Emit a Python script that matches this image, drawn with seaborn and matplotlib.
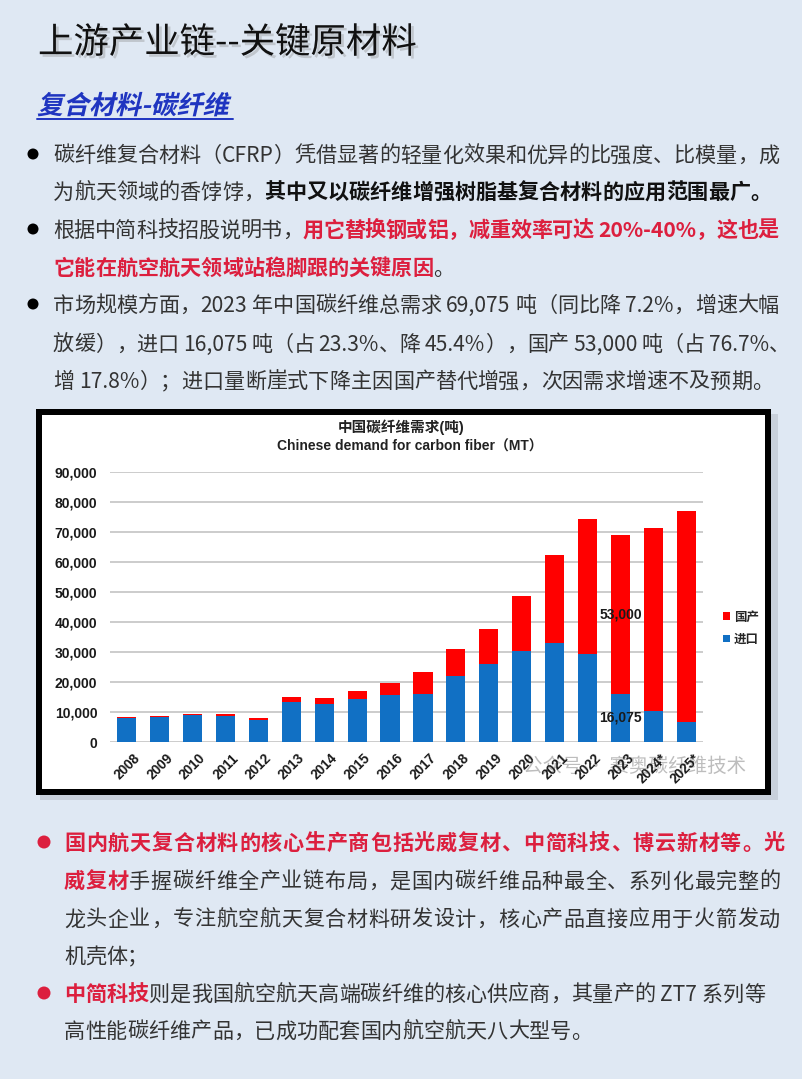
import matplotlib
matplotlib.use("Agg")
import matplotlib.pyplot as plt
import matplotlib.patheffects as pe
import pandas as pd
import seaborn as sns
from matplotlib.patches import Rectangle, Ellipse, PathPatch
from matplotlib.lines import Line2D
from matplotlib.textpath import TextPath
from matplotlib.font_manager import FontProperties
from matplotlib.transforms import Affine2D, ScaledTranslation

# 数据 (吨)
years = ["2008", "2009", "2010", "2011", "2012", "2013", "2014", "2015", "2016",
         "2017", "2018", "2019", "2020", "2021", "2022", "2023", "2024*", "2025*"]
imports = [7900, 8300, 9100, 8600, 7400, 13300, 12700, 14200, 15800,
           16000, 22000, 25900, 30300, 33100, 29400, 16075, 10400, 6700]
domestic = [600, 400, 300, 800, 600, 1800, 2100, 2800, 3800,
            7400, 9000, 11900, 18500, 29200, 44900, 53000, 60900, 70300]
y_ticks = [0, 10000, 20000, 30000, 40000, 50000, 60000, 70000, 80000, 90000]
callout_year = "2023"

W, H, DPI = 803, 1079, 100
BG = "#DFE8F3"
RED_BAR = "#FF0000"
BLUE_BAR = "#1170C4"
RED_TXT = "#DC1F3E"
TXT = "#333333"
BLK = "#111111"
CJK = ["Noto Sans CJK SC", "DejaVu Sans"]
CHART_FONT = ["Liberation Sans", "Noto Sans CJK SC", "DejaVu Sans"]

sns.set_theme(style="white")
plt.rcParams["font.family"] = CJK
plt.rcParams["axes.unicode_minus"] = False

fig = plt.figure(figsize=(W / DPI, H / DPI), dpi=DPI, facecolor=BG)
renderer = fig.canvas.get_renderer()


def fx(x):
    return x / W


def fy(y):
    return 1 - y / H


# ---------- chart box ----------
fig.add_artist(Rectangle((fx(40), fy(800)), 738 / W, 386 / H, transform=fig.transFigure,
                         facecolor="#A6AEB8", edgecolor="none", alpha=0.4, zorder=-3))
fig.add_artist(Rectangle((fx(39), fy(792)), 729 / W, 380 / H, transform=fig.transFigure,
                         facecolor="white", edgecolor="black", linewidth=6 * 72 / DPI, zorder=-2))

fig.text(fx(401), fy(427), "中国碳纤维需求(吨)", ha="center", va="center",
         fontsize=10.5, fontweight="bold", color="#222222", family=CHART_FONT)
fig.text(fx(410), fy(447), "Chinese demand for carbon fiber（MT）", ha="center", va="center",
         fontsize=10, fontweight="bold", color="#222222", family=CHART_FONT)
fig.text(fx(746), fy(766), "公众号 · 赛奥碳纤维技术", ha="right", va="center",
         fontsize=14, color="#BDBDBD", zorder=-1)

ax = fig.add_axes([fx(110), fy(742), 593 / W, 270 / H])
ax.patch.set_alpha(0)

df = pd.DataFrame({"year": years, "进口": imports, "国产": domestic})
df["total"] = df["进口"] + df["国产"]

sns.barplot(data=df, x="year", y="total", color=RED_BAR, saturation=1, width=0.58,
            linewidth=0, ax=ax, label="国产")
sns.barplot(data=df, x="year", y="进口", color=BLUE_BAR, saturation=1, width=0.58,
            linewidth=0, ax=ax, label="进口")

ax.set_xlim(-0.5, len(years) - 0.5)
ax.set_ylim(0, 90000)
ax.set_yticks(y_ticks)
ax.set_yticklabels([f"{v:,}" for v in y_ticks], fontsize=10, fontweight="bold",
                   family=CHART_FONT, color="#1A1A1A")
ax.set_xlabel("")
ax.set_ylabel("")
ax.yaxis.grid(True, color="#C8C8C8", linewidth=1.3)
ax.set_axisbelow(True)
sns.despine(ax=ax, left=True, bottom=True)
ax.tick_params(axis="y", length=0, pad=9)
ax.tick_params(axis="x", length=0, pad=3)
for lab in ax.get_xticklabels():
    lab.set_rotation(45)
    lab.set_ha("right")
    lab.set_va("center")
    lab.set_rotation_mode("anchor")
    lab.set_fontsize(9.8)
    lab.set_fontweight("bold")
    lab.set_family(CHART_FONT)
    lab.set_color("#1A1A1A")
    lab.set_transform(lab.get_transform() + ScaledTranslation(8 / 72, -7 / 72, fig.dpi_scale_trans))

# 2023 数值标注
row = df[df["year"] == callout_year].iloc[0]
xi = years.index(callout_year)
ax.text(xi, row["进口"] + row["国产"] / 2, f"{row['国产']:,}", ha="center", va="center",
        fontsize=10, fontweight="bold", family=CHART_FONT, color="#1A1A1A")
ax.text(xi, row["进口"] / 2, f"{row['进口']:,}", ha="center", va="center",
        fontsize=10, fontweight="bold", family=CHART_FONT, color="#1A1A1A")

handles, labels = ax.get_legend_handles_labels()
ax.legend(handles, labels, loc="center left", bbox_to_anchor=(fx(712), fy(628)),
          bbox_transform=fig.transFigure, frameon=False, handlelength=0.55, handleheight=0.55,
          handletextpad=0.3, labelspacing=0.75, prop={"family": CJK, "weight": "bold", "size": 9})

# ---------- page text ----------
title = fig.text(fx(38), fy(53), "上游产业链--关键原材料", ha="left", va="baseline",
                 fontsize=25.5, color=BLK)
title.set_path_effects([pe.withSimplePatchShadow(offset=(2, -2), shadow_rgbFace="#888888", alpha=0.35)])

BLUE_SUB = "#1F35C0"
sub_fp = FontProperties(family=CJK, weight="bold")
sub_path = TextPath((0, 0), "复合材料-碳纤维", size=26, prop=sub_fp)
fig.add_artist(PathPatch(sub_path, transform=Affine2D().skew_deg(13, 0).translate(37, H - 114),
                         facecolor=BLUE_SUB, edgecolor="none"))
fig.add_artist(Line2D([fx(37), fx(233)], [fy(118.5), fy(118.5)], transform=fig.transFigure,
                      color=BLUE_SUB, linewidth=1.4))

BODY = 15.2
_adv = {}


def advance(tk, weight):
    key = (tk, weight)
    if key not in _adv:
        a = fig.text(0, 0, "中" + tk + "中", fontsize=BODY, fontweight=weight)
        b = fig.text(0, 0, "中中", fontsize=BODY, fontweight=weight)
        _adv[key] = a.get_window_extent(renderer).width - b.get_window_extent(renderer).width
        a.remove()
        b.remove()
    return _adv[key]


def tokens(s):
    out, buf = [], ""
    for ch in s:
        if ch.isascii() and ch != " ":
            buf += ch
        else:
            if buf:
                out.append(buf)
                buf = ""
            out.append(ch)
    if buf:
        out.append(buf)
    return out


def body_line(y, segs, x0, x1=None):
    items = []
    for s, color, weight in segs:
        for tk in tokens(s):
            items.append((tk, color, weight, advance(tk, weight)))
    natural = sum(it[3] for it in items)
    gap = 0.0
    if x1 is not None and len(items) > 1:
        gap = (x1 - x0 - natural) / (len(items) - 1)
    base = y + 0.36 * BODY * DPI / 72
    x = x0
    for tk, color, weight, w in items:
        if tk != " ":
            fig.text(fx(x), fy(base), tk, ha="left", va="baseline", fontsize=BODY,
                     fontweight=weight, color=color)
        x += w + gap


def bullet(x, y, d, color):
    fig.add_artist(Ellipse((fx(x), fy(y)), d / W, d / H, transform=fig.transFigure,
                           facecolor=color, edgecolor="none"))


N, B = "normal", "bold"
bullet(33, 154, 11, "black")
body_line(154, [("碳纤维复合材料（CFRP）凭借显著的轻量化效果和优异的比强度、比模量，成", TXT, N)], 53, 779)
body_line(191, [("为航天领域的香饽饽，", TXT, N), ("其中又以碳纤维增强树脂基复合材料的应用范围最广。", BLK, B)], 53)
bullet(33, 229, 11, "black")
body_line(229, [("根据中简科技招股说明书，", TXT, N), ("用它替换钢或铝，减重效率可达 20%-40%，这也是", RED_TXT, B)], 53, 779)
body_line(267, [("它能在航空航天领域站稳脚跟的关键原因", RED_TXT, B), ("。", TXT, N)], 53)
bullet(33, 304, 11, "black")
body_line(304, [("市场规模方面，2023 年中国碳纤维总需求 69,075 吨（同比降 7.2%，增速大幅", TXT, N)], 53, 779)
body_line(343, [("放缓），进口 16,075 吨（占 23.3%、降 45.4%），国产 53,000 吨（占 76.7%、", TXT, N)], 53, 790)
body_line(380, [("增 17.8%）；进口量断崖式下降主因国产替代增强，次因需求增速不及预期。", TXT, N)], 53)

bullet(44, 842, 13, RED_TXT)
body_line(842, [("国内航天复合材料的核心生产商包括光威复材、中简科技、博云新材等。光", RED_TXT, B)], 64, 785)
body_line(880, [("威复材", RED_TXT, B), ("手握碳纤维全产业链布局，是国内碳纤维品种最全、系列化最完整的", TXT, N)], 64, 780)
body_line(918, [("龙头企业，专注航空航天复合材料研发设计，核心产品直接应用于火箭发动", TXT, N)], 64, 780)
body_line(955, [("机壳体；", TXT, N)], 64)
bullet(44, 993, 13, RED_TXT)
body_line(993, [("中简科技", RED_TXT, B), ("则是我国航空航天高端碳纤维的核心供应商，其量产的 ZT7 系列等", TXT, N)], 64)
body_line(1030, [("高性能碳纤维产品，已成功配套国内航空航天八大型号。", TXT, N)], 64)

fig.savefig("out.png", dpi=DPI, facecolor=BG)
